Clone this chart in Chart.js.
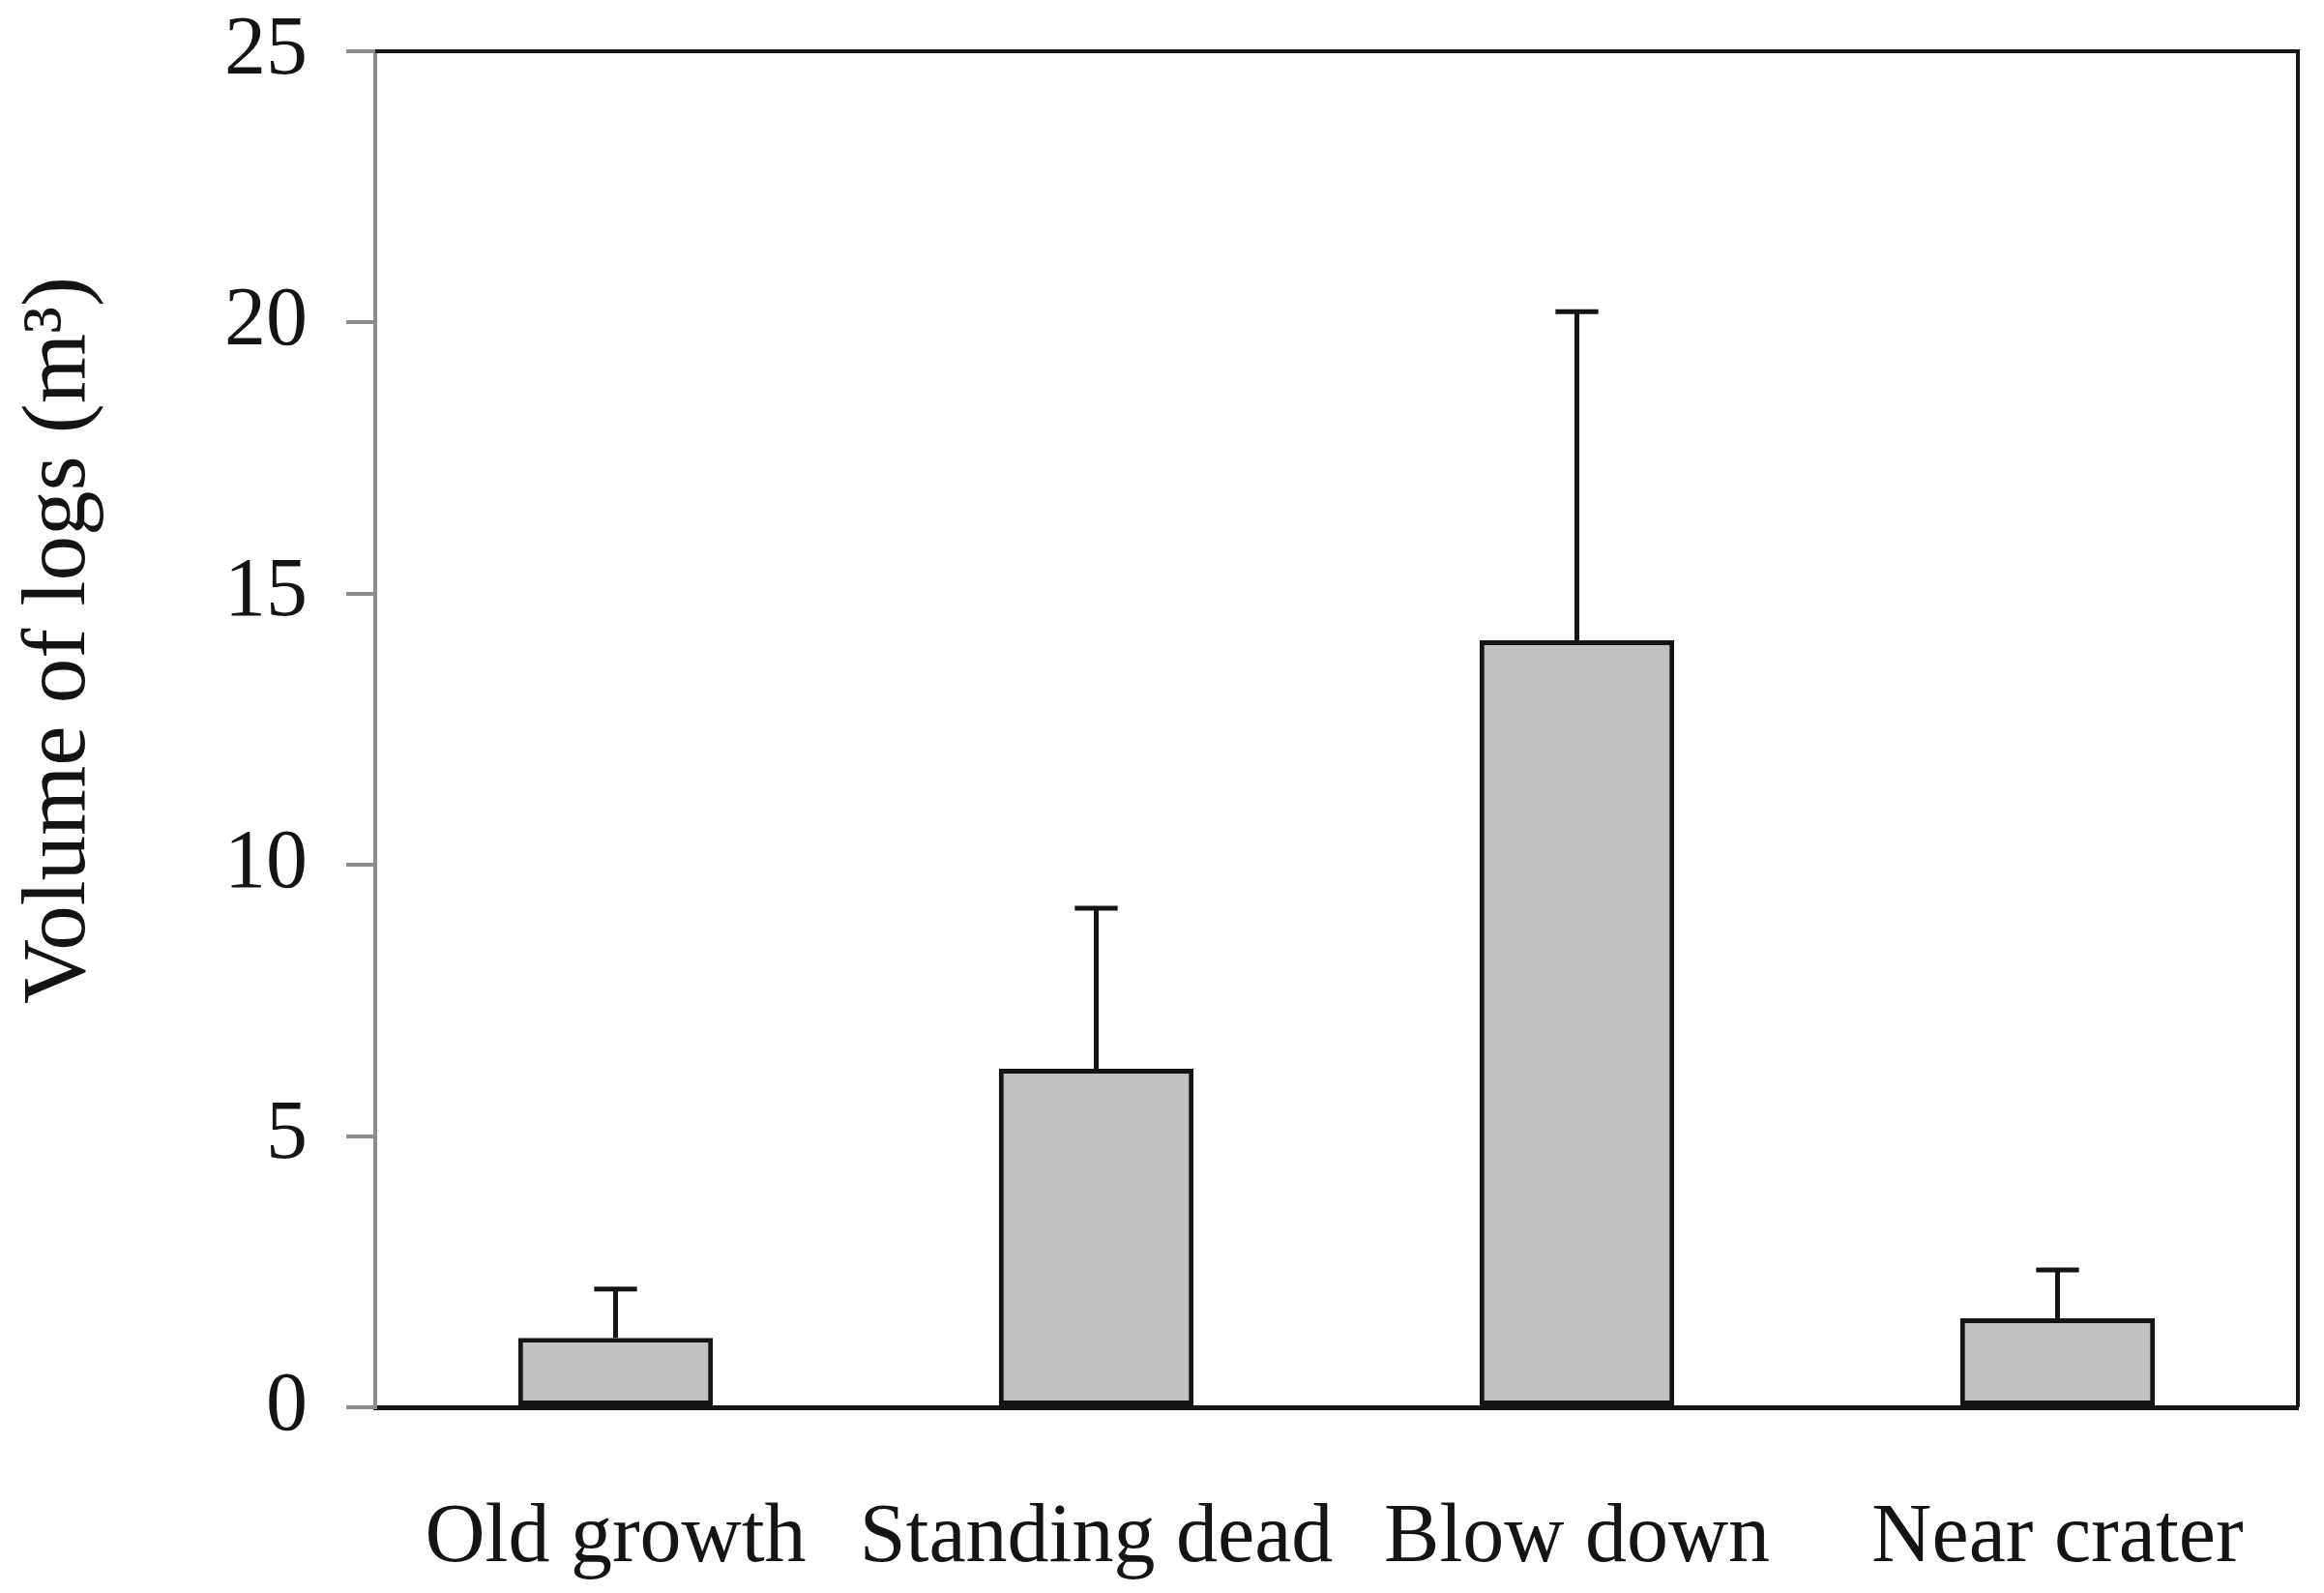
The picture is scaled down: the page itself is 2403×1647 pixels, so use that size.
<!DOCTYPE html>
<html>
<head>
<meta charset="utf-8">
<script src="https://cdn.jsdelivr.net/npm/chart.js@4.4.1/dist/chart.umd.min.js"></script>
<style>
  html, body { margin: 0; padding: 0; background: #fff; }
  #wrap { width: 2403px; height: 1647px; }
</style>
</head>
<body>
<div id="wrap"><canvas id="chart" width="2403" height="1647"></canvas></div>
<script>
// values
const categories = ["Old growth", "Standing dead", "Blow down", "Near crater"];
const volumes = [1.28, 6.24, 14.14, 1.64];
const errors = [0.90, 2.96, 6.06, 0.89];   // upper error bar length
const yTicks = [0, 5, 10, 15, 20, 25];
const yTitle = "Volume of logs (m\u00B3)";

const SERIF = '"Liberation Serif", "Times New Roman", serif';
const INK = "#141414";
const AXIS_GREY = "#8c8c8c";

// top + right edges of the plot box
const framePlugin = {
  id: "frame",
  afterDraw(chart){
    const { ctx, chartArea: a } = chart;
    ctx.save();
    ctx.strokeStyle = INK;
    ctx.lineWidth = 4;
    ctx.beginPath();
    ctx.moveTo(a.left, a.top);
    ctx.lineTo(a.right, a.top);
    ctx.lineTo(a.right, a.bottom);
    ctx.stroke();
    ctx.restore();
  }
};

// one-sided error bars on top of each bar
const errorBarPlugin = {
  id: "errorBars",
  afterDatasetsDraw(chart){
    const { ctx } = chart;
    const y = chart.scales.y;
    const meta = chart.getDatasetMeta(0);
    ctx.save();
    ctx.strokeStyle = INK;
    ctx.lineWidth = 5;
    meta.data.forEach((bar, i) => {
      const top = y.getPixelForValue(volumes[i] + errors[i]);
      const capHalf = bar.width * 0.11;
      ctx.beginPath();
      ctx.moveTo(bar.x, bar.y);
      ctx.lineTo(bar.x, top);
      ctx.moveTo(bar.x - capHalf, top);
      ctx.lineTo(bar.x + capHalf, top);
      ctx.stroke();
    });
    ctx.restore();
  }
};

// rotated y title, sits a bit above the middle like the original
const yTitlePlugin = {
  id: "yTitle",
  afterDraw(chart){
    const { ctx, chartArea: a } = chart;
    ctx.save();
    ctx.translate(a.left - 301, a.top + 609);
    ctx.rotate(-Math.PI / 2);
    ctx.font = "93px " + SERIF;
    ctx.fillStyle = INK;
    ctx.textAlign = "center";
    ctx.textBaseline = "alphabetic";
    ctx.fillText(yTitle, 0, 0);
    ctx.restore();
  }
};

new Chart(document.getElementById("chart"), {
  type: "bar",
  data: {
    labels: categories,
    datasets: [{
      data: volumes,
      backgroundColor: "#c0c0c0",
      borderColor: INK,
      borderWidth: 5,
      borderSkipped: false,
      barPercentage: 0.405,
      categoryPercentage: 1.0
    }]
  },
  options: {
    responsive: false,
    devicePixelRatio: 1,
    animation: false,
    layout: { padding: { top: 53, right: 27, left: 0, bottom: 0 } },
    plugins: {
      legend: { display: false },
      tooltip: { enabled: false }
    },
    scales: {
      x: {
        grid: { display: false, drawTicks: false },
        border: { display: true, color: INK, width: 5 },
        ticks: {
          color: INK,
          padding: 85,
          font: { family: SERIF, size: 86 }
        },
        afterFit(scale){
          scale.height = 192;
          scale.paddingLeft = 0;
          scale.paddingRight = 0;
        }
      },
      y: {
        min: 0,
        max: 25,
        afterBuildTicks(scale){ scale.ticks = yTicks.map(v => ({ value: v })); },
        grid: {
          drawOnChartArea: false,
          drawTicks: true,
          tickLength: 30,
          color: AXIS_GREY,
          lineWidth: 4
        },
        border: { display: true, color: AXIS_GREY, width: 4 },
        ticks: {
          color: INK,
          padding: 40,
          font: { family: SERIF, size: 86 }
        },
        afterFit(scale){
          scale.width = 388;
          scale.paddingTop = 0;
          scale.paddingBottom = 0;
        }
      }
    }
  },
  plugins: [framePlugin, errorBarPlugin, yTitlePlugin]
});
</script>
</body>
</html>
